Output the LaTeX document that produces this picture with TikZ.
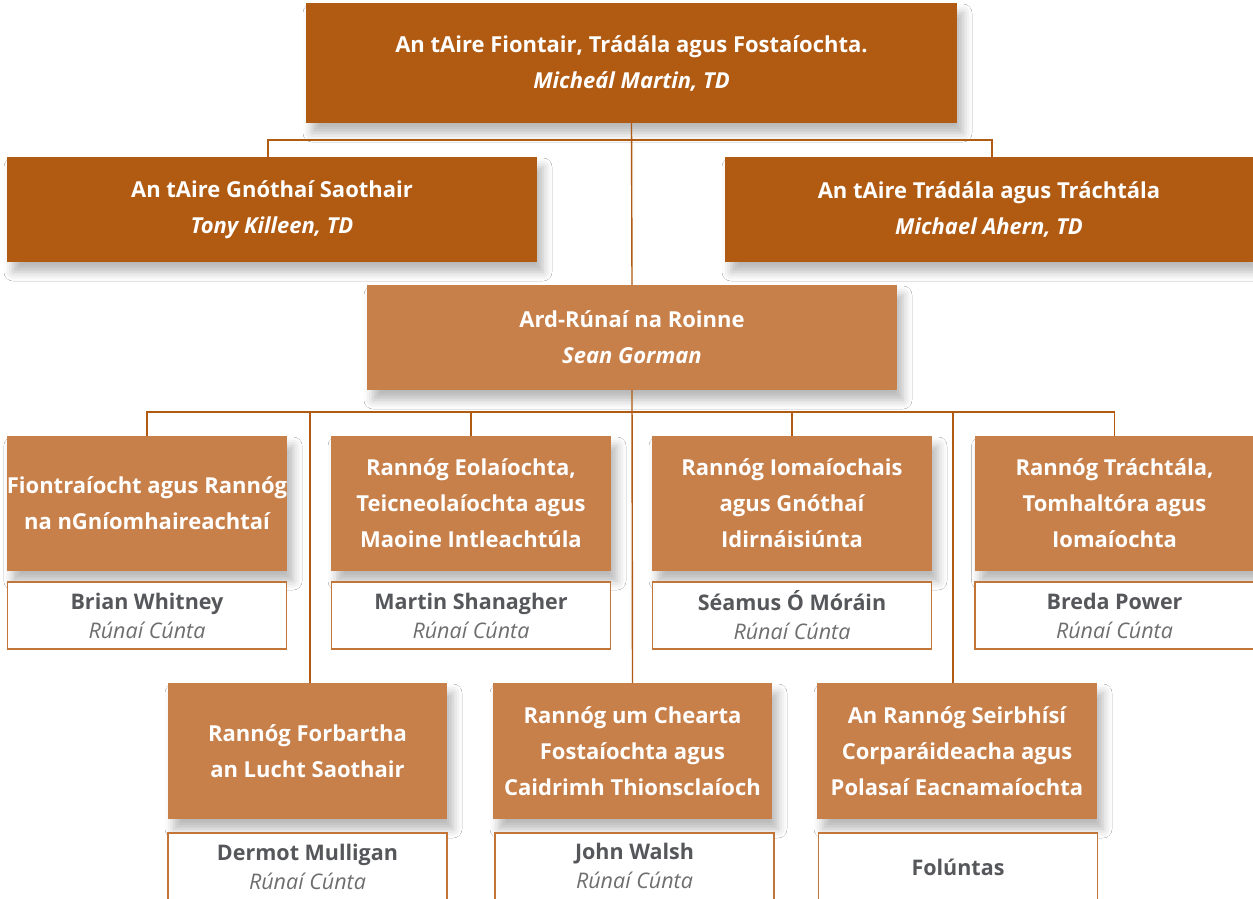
\documentclass[tikz,border=0pt]{standalone}
\usepackage{fontspec}
\setmainfont{Open Sans}
\usetikzlibrary{shadows.blur}
\definecolor{darkor}{RGB}{176,90,18}
\definecolor{lightor}{RGB}{200,128,74}
\definecolor{txtgrey}{RGB}{85,87,90}
\definecolor{itgrey}{RGB}{110,110,112}
\tikzset{
  boxbase/.style={inner sep=0pt, outer sep=0pt, align=center, text=white,
    font=\fontsize{22}{36}\selectfont\bfseries,
    blur shadow={shadow xshift=6pt, shadow yshift=-10pt, shadow blur radius=9pt, shadow opacity=28}},
  minbox/.style={boxbase, fill=darkor},
  divbox/.style={boxbase, fill=lightor, minimum width=280pt, minimum height=135pt},
  namebox/.style={inner sep=0pt, outer sep=0pt, align=center, fill=white, draw=lightor!70!darkor,
    line width=1.2pt, minimum width=279pt, minimum height=67pt, text=txtgrey,
    font=\fontsize{21.5}{29}\selectfont},
  nametext/.style={inner sep=0pt, outer sep=0pt, align=center, text=txtgrey,
    font=\fontsize{21.5}{29}\selectfont},
  conn/.style={draw=darkor, line width=1.4pt},
}
\newcommand{\rc}{\\{\mdseries\itshape\color{itgrey}Rúnaí Cúnta}}
\begin{document}
\begin{tikzpicture}[x=1pt,y=-1pt]
\clip (0,0) rectangle (1253,899);
\fill[white] (0,0) rectangle (1253,899);
\coordinate (bus1) at (631,140);
\coordinate (bus2) at (631,412);
\node[minbox, minimum width=651pt, minimum height=120pt] (top) at (631.5,63)
  {An tAire Fiontair, Trádála agus Fostaíochta.\\ \itshape Micheál Martin, TD};
\node[minbox, minimum width=530pt, minimum height=105pt] (lmin) at (272,209.5)
  {An tAire Gnóthaí Saothair\\ \itshape Tony Killeen, TD};
\node[minbox, minimum width=528pt, minimum height=105pt] (rmin) at (989,209.5)
  {An tAire Trádála agus Tráchtála\\ \itshape Michael Ahern, TD};
\node[divbox, minimum width=530pt, minimum height=105pt] (ard) at (632,337.5)
  {Ard-Rúnaí na Roinne\\ \itshape Sean Gorman};
% row 1
\node[divbox] (d1) at (147,503.5) {Fiontraíocht agus Rannóg\\ na nGníomhaireachtaí};
\node[divbox] (d2) at (471,503.5) {Rannóg Eolaíochta,\\ Teicneolaíochta agus\\ Maoine Intleachtúla};
\node[divbox] (d3) at (792,503.5) {Rannóg Iomaíochais\\ agus Gnóthaí\\ Idirnáisiúnta};
\node[divbox] (d4) at (1114.5,503.5) {Rannóg Tráchtála,\\ Tomhaltóra agus\\ Iomaíochta};
% row 2
\node[divbox, minimum width=279pt, minimum height=136pt] (e1) at (307.5,751) {Rannóg Forbartha\\ an Lucht Saothair};
\node[divbox, minimum width=279pt, minimum height=136pt] (e2) at (632.5,751) {Rannóg um Chearta\\ Fostaíochta agus\\ Caidrimh Thionsclaíoch};
\node[divbox, minimum width=280pt, minimum height=136pt] (e3) at (957,751) {An Rannóg Seirbhísí\\ Corparáideacha agus\\ Polasaí Eacnamaíochta};
% name boxes
\node[namebox] (n1) at (147,615.5) {\textbf{Brian Whitney}\rc};
\node[namebox] (n2) at (471,615.5) {\textbf{Martin Shanagher}\rc};
\node[namebox] (n3) at (792,615.5) {\textbf{Séamus Ó Móráin}\rc};
\node[namebox] (n4) at (1114.5,615.5) {\textbf{Breda Power}\rc};
\node[namebox, minimum height=80pt] (m1) at (307.5,873) {};
\node[namebox, minimum height=80pt] (m2) at (634.5,873) {};
\node[namebox, minimum height=80pt] (m3) at (958,873) {};
\node[nametext] (m1t) at (307.5,867) {\textbf{Dermot Mulligan}\rc};
\node[nametext] (m2t) at (634.5,866) {\textbf{John Walsh}\rc};
\node[nametext] (m3t) at (958,867) {\textbf{Folúntas}};
% connectors
\draw[conn] (top.south) -- (ard.north);
\draw[conn] (lmin.north -| 268,0) |- (bus1) -| (rmin.north -| 992,0);
\draw[conn] (ard.south) -- (e2.north);
\draw[conn] (d1.north) |- (bus2) -| (d4.north);
\draw[conn] (d2.north) -- (d2.north |- bus2);
\draw[conn] (d3.north) -- (d3.north |- bus2);
\draw[conn] (e1.north -| 310,0) -- (bus2 -| 310,0);
\draw[conn] (e3.north -| 953,0) -- (bus2 -| 953,0);
\end{tikzpicture}
\end{document}
